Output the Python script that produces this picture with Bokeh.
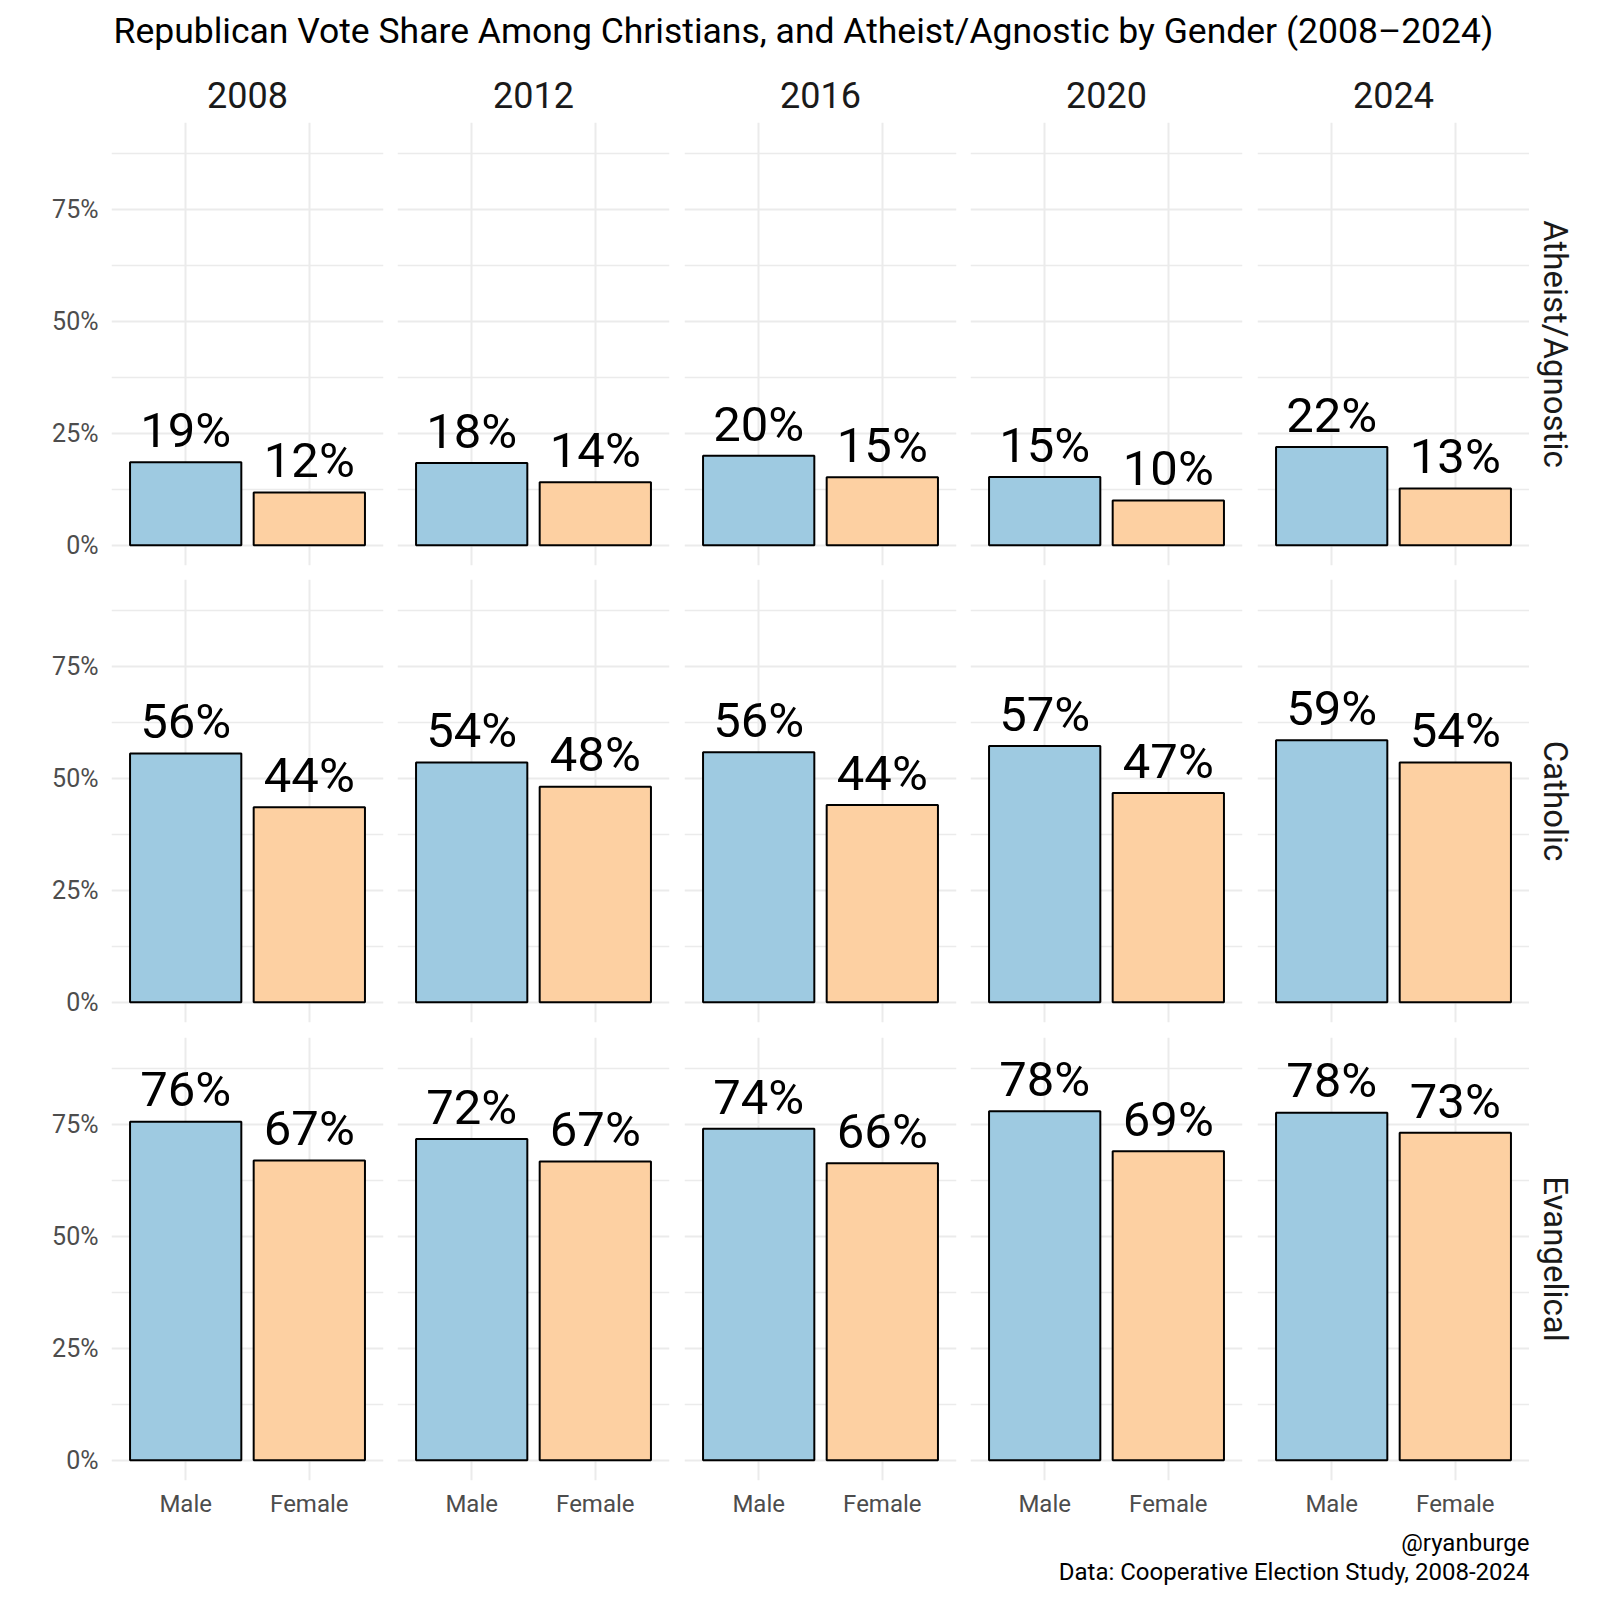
from bokeh.plotting import figure
from bokeh.layouts import gridplot, column
from bokeh.models import (FactorRange, Range1d, FixedTicker, CategoricalTicker,
                          ColumnDataSource, NumeralTickFormatter)
from bokeh.core.properties import value
from bokeh.embed import file_html
from bokeh.resources import INLINE

# ---------------- data ----------------
years = ["2008", "2012", "2016", "2020", "2024"]
groups = ["Atheist/Agnostic", "Catholic", "Evangelical"]
genders = ["Male", "Female"]

atheist_male = [0.186, 0.184, 0.200, 0.153, 0.220]
atheist_female = [0.118, 0.141, 0.152, 0.100, 0.127]
catholic_male = [0.556, 0.536, 0.559, 0.573, 0.586]
catholic_female = [0.436, 0.482, 0.441, 0.468, 0.536]
evangelical_male = [0.757, 0.718, 0.741, 0.780, 0.777]
evangelical_female = [0.670, 0.668, 0.664, 0.691, 0.732]

male_by_group = [atheist_male, catholic_male, evangelical_male]
female_by_group = [atheist_female, catholic_female, evangelical_female]

y_ticks = [0, 0.25, 0.5, 0.75]
y_minor = [0.125, 0.375, 0.625, 0.875]

title_text = "Republican Vote Share Among Christians, and Atheist/Agnostic by Gender (2008\u20132024)"
caption_1 = "@ryanburge"
caption_2 = "Data: Cooperative Election Study, 2008-2024"

# ---------------- style ----------------
FONT = "Roboto"
MID = 0.342          # distance (em) from the alphabetic baseline to the middle of the text box
MALE_COLOR = "#9ECAE1"
FEMALE_COLOR = "#FDD0A2"
GRID = "#EBEBEB"
FW, FH = 272, 443
Y0, Y1 = -0.045, 0.945
PX_PER_UNIT = FH / (Y1 - Y0)
STRIP_W = 63
HEADER_H = 50
col_left = [111, 7, 8, 7, 7]
col_right = [7, 7, 7, 8, 0]
row_top = [0, 7, 8]
row_bottom = [7, 7, 50]
TOTAL_W = sum(col_left) + sum(col_right) + 5 * FW + STRIP_W

TITLE_PX, YEAR_PX, BAR_PX, STRIP_PX, CAP_PX = 35.5, 36, 49, 33, 24


def clean(f):
    f.grid.visible = False
    f.outline_line_color = None
    f.background_fill_color = "white"
    f.border_fill_color = "white"
    return f


def text_fig(w, h, **kw):
    f = figure(frame_width=w, frame_height=h, x_range=Range1d(0, w), y_range=Range1d(0, h),
               x_axis_location=None, y_axis_location=None,
               min_border_left=kw.get("left", 0), min_border_right=kw.get("right", 0),
               min_border_top=kw.get("top", 0), min_border_bottom=kw.get("bottom", 0),
               output_backend="svg", toolbar_location=None)
    return clean(f)


# title
title_fig = text_fig(TOTAL_W, 72)
title_fig.text(x=[113], y=[29 + MID * TITLE_PX], text=[title_text], text_align="left",
               text_baseline="middle", text_font=value(FONT),
               text_font_size=f"{TITLE_PX}px", text_color="#000000")

rows = []

# header row with the year strips
header = []
for c, yr in enumerate(years):
    h = text_fig(FW, HEADER_H, left=col_left[c], right=col_right[c])
    h.text(x=[FW / 2], y=[15 + MID * YEAR_PX], text=[yr], text_align="center",
           text_baseline="middle", text_font=value(FONT),
           text_font_size=f"{YEAR_PX}px", text_color="#1A1A1A")
    header.append(h)
header.append(None)
rows.append(header)

for r, grp in enumerate(groups):
    row = []
    for c, yr in enumerate(years):
        p = figure(x_range=FactorRange(*genders, range_padding=0.1, range_padding_units="percent"),
                   y_range=Range1d(Y0, Y1),
                   frame_width=FW, frame_height=FH,
                   min_border_left=col_left[c], min_border_right=col_right[c],
                   min_border_top=row_top[r], min_border_bottom=row_bottom[r],
                   x_axis_location="below" if r == len(groups) - 1 else None,
                   y_axis_location="left" if c == 0 else None,
                   output_backend="svg", toolbar_location=None)
        p.outline_line_color = None
        p.background_fill_color = "white"
        p.border_fill_color = "white"

        p.xgrid.ticker = CategoricalTicker()
        p.xgrid.grid_line_color = GRID
        p.xgrid.grid_line_width = 2
        p.ygrid.ticker = FixedTicker(ticks=y_ticks, minor_ticks=y_minor)
        p.ygrid.grid_line_color = GRID
        p.ygrid.grid_line_width = 2
        p.ygrid.minor_grid_line_color = GRID
        p.ygrid.minor_grid_line_width = 1.5

        if c == 0:
            ax = p.yaxis[0]
            ax.ticker = FixedTicker(ticks=y_ticks)
            ax.formatter = NumeralTickFormatter(format="0%")
            ax.axis_line_color = None
            ax.major_tick_line_color = None
            ax.minor_tick_line_color = None
            ax.major_tick_out = 0
            ax.major_tick_in = 0
            ax.major_label_standoff = 13
            ax.major_label_text_font = FONT
            ax.major_label_text_font_size = "25px"
            ax.major_label_text_color = "#4D4D4D"
        if r == len(groups) - 1:
            ax = p.xaxis[0]
            ax.axis_line_color = None
            ax.major_tick_line_color = None
            ax.minor_tick_line_color = None
            ax.major_tick_out = 0
            ax.major_tick_in = 0
            ax.major_label_standoff = 9
            ax.major_label_text_font = FONT
            ax.major_label_text_font_size = "24px"
            ax.major_label_text_color = "#4D4D4D"

        vals = [male_by_group[r][c], female_by_group[r][c]]
        src = ColumnDataSource(dict(
            gender=genders, share=vals,
            label_y=[v + (15 + MID * BAR_PX) / PX_PER_UNIT for v in vals],
            color=[MALE_COLOR, FEMALE_COLOR],
            label=[f"{round(v * 100)}%" for v in vals],
        ))
        p.vbar(x="gender", top="share", bottom=0, width=0.9, source=src,
               fill_color="color", line_color="#000000", line_width=2)
        p.text(x="gender", y="label_y", text="label", source=src,
               text_align="center", text_baseline="middle",
               text_font=value(FONT), text_font_size=f"{BAR_PX}px", text_color="#000000")
        row.append(p)

    s = text_fig(STRIP_W, FH, top=row_top[r], bottom=row_bottom[r])
    s.text(x=[15 + MID * STRIP_PX], y=[FH / 2], text=[grp], angle=-1.5707963,
           text_align="center", text_baseline="middle", text_font=value(FONT),
           text_font_size=f"{STRIP_PX}px", text_color="#1A1A1A")
    row.append(s)
    rows.append(row)

grid = gridplot(rows, toolbar_location=None)

cap_fig = text_fig(TOTAL_W, 64)
cap_fig.text(x=[1529, 1529], y=[43 + MID * CAP_PX, 14 + MID * CAP_PX],
             text=[caption_1, caption_2], text_align="right",
             text_baseline="middle", text_font=value(FONT), text_font_size=f"{CAP_PX}px",
             text_color="#000000")

layout = column(title_fig, grid, cap_fig)

open("out.html", "w").write(file_html(layout, INLINE))
